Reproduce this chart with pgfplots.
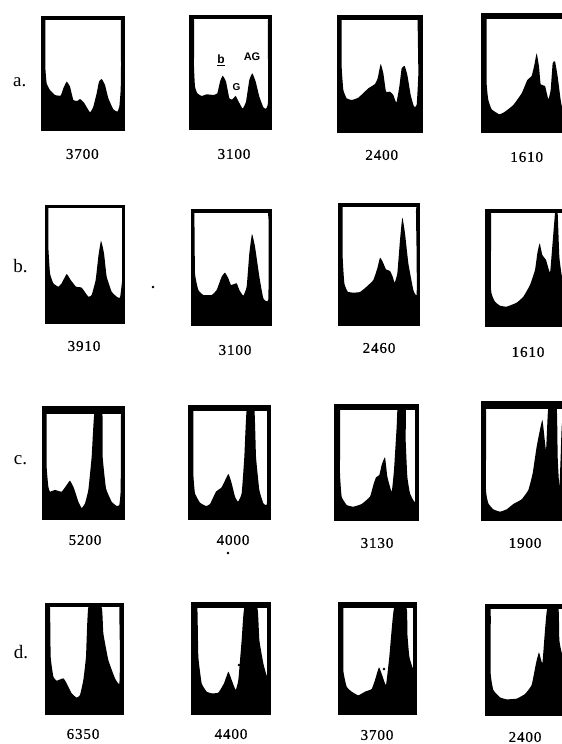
\documentclass[border=0pt]{standalone}
\usepackage{fontspec}
\setmainfont{Liberation Serif}
\newfontfamily\annofont{Liberation Sans}
\newfontfamily\numfont[FakeBold=0.6,LetterSpace=6]{Liberation Serif}
\usepackage{pgfplots}
\pgfplotsset{compat=1.18}
% #1,#2 crop origin (px); #3..#6 frame (3x crop units); #7 frame width (px); #8 lower edge of top band; #9 profile
\newcommand{\panel}[9]{%
  \pgfmathsetmacro{\px}{#1+#3/3}%
  \pgfmathsetmacro{\py}{744-(#2+#6/3)}%
  \pgfmathsetmacro{\pw}{(#5-#3)/3}%
  \pgfmathsetmacro{\ph}{(#6-#4)/3}%
  \begin{axis}[at={(\px pt,\py pt)},anchor=south west,scale only axis,width=\pw pt,height=\ph pt,
    xmin=#3,xmax=#5,ymin=#4,ymax=#6,y dir=reverse,xtick=\empty,ytick=\empty,
    axis line style={line width=#7pt,black}]
    \addplot[fill=black,draw=none] coordinates {(#3,#4)(#5,#4)(#5,#8)(#3,#8)} --cycle;
    \addplot[fill=black,draw=none,smooth,tension=0.22] coordinates {(#3,#6)(#3,#4)#9(#5,#4)(#5,#6)} --cycle;
  \end{axis}%
}
\newcommand{\numlab}[3]{\node[font=\numfont\fontsize{15}{15}\selectfont,anchor=center] at (axis cs:#1,#2) {#3};}
\newcommand{\rowlab}[3]{\node[font=\fontsize{19}{20}\selectfont,anchor=center] at (axis cs:#1,#2) {#3};}
\begin{document}
\begin{tikzpicture}
\useasboundingbox (0,0) rectangle (562pt,744pt);
\begin{axis}[at={(0pt,0pt)},anchor=south west,scale only axis,width=562pt,height=744pt,hide axis,
  xmin=0,xmax=562,ymin=0,ymax=744,y dir=reverse]
  \addplot[only marks,mark=*,mark size=1pt,black] coordinates {(153,287)(228,553)(239,665)(384,669)};
  \rowlab{19.7}{82}{a.}
  \rowlab{20.6}{266}{b.}
  \rowlab{20.5}{460}{c.}
  \rowlab{21}{652}{d.}
  \numlab{82.3}{154}{3700}
  \numlab{234}{154}{3100}
  \numlab{381.7}{155}{2400}
  \numlab{526.7}{157}{1610}
  \numlab{84}{346}{3910}
  \numlab{235}{350}{3100}
  \numlab{379}{348}{2460}
  \numlab{528}{352}{1610}
  \numlab{85}{540}{5200}
  \numlab{233}{540}{4000}
  \numlab{377}{543}{3130}
  \numlab{525}{543}{1900}
  \numlab{83}{734}{6350}
  \numlab{231}{734}{4400}
  \numlab{377}{735}{3700}
  \numlab{525}{737}{2400}
  \node[font=\annofont\bfseries\fontsize{12}{12}\selectfont] at (axis cs:221,60) {\underline{b}};
  \node[font=\annofont\bfseries\fontsize{10}{10}\selectfont] at (axis cs:236.5,87) {G};
  \node[font=\annofont\bfseries\fontsize{11}{11}\selectfont] at (axis cs:252,57) {AG};
\end{axis}
% row a
\panel{0}{0}{130}{54}{368}{388}{4}{58}{(136,60)(136,200)(140,250)(150,270)(165,285)(182,287)(190,265)(200,245)(210,260)(220,300)(232,303)(240,297)(252,308)(270,337)(280,320)(290,280)(297,245)(305,237)(315,255)(325,295)(340,328)(352,335)(358,320)(362,270)(363,200)(363,60)}
\panel{0}{0}{574}{52}{810}{385}{4}{58}{(582,60)(582,200)(585,260)(592,280)(605,288)(620,283)(640,285)(652,280)(660,245)(668,227)(678,245)(688,295)(697,298)(707,288)(716,305)(728,326)(738,305)(748,240)(757,220)(767,245)(778,290)(790,322)(798,326)(804,305)(804,60)}
\panel{290}{0}{146}{52}{392}{392}{4}{60}{(155,60)(155,200)(160,270)(170,295)(185,300)(205,293)(235,265)(255,252)(263,235)(272,192)(280,220)(288,275)(300,275)(310,285)(319,308)(328,260)(335,205)(344,198)(352,225)(362,285)(372,320)(380,315)(385,220)(383,60)}
\panel{290}{0}{581}{47}{840}{392}{4.5}{58}{(590,60)(590,250)(595,300)(605,328)(628,343)(645,335)(670,315)(695,280)(712,240)(725,228)(733,195)(740,160)(747,200)(752,253)(765,258)(775,298)(782,270)(788,190)(795,184)(803,230)(812,300)(816,320)(830,345)(840,345)}
% row b
\panel{0}{190}{139}{48}{371}{398}{2.5}{54}{(145,55)(145,170)(150,250)(160,280)(175,290)(185,280)(200,252)(212,270)(228,290)(245,293)(265,320)(275,315)(287,270)(295,200)(303,152)(312,190)(320,260)(335,305)(350,320)(360,323)(367,260)(367,55)}
\panel{0}{190}{578}{62}{811}{403}{2.5}{68}{(583,68)(585,250)(595,300)(610,315)(635,315)(650,300)(665,260)(675,248)(685,265)(693,285)(710,280)(718,300)(730,317)(740,290)(748,190)(756,132)(765,170)(778,260)(790,325)(805,328)(806,100)(804,68)}
\panel{290}{190}{150}{45}{386}{402}{3.5}{52}{(158,52)(158,200)(163,280)(173,305)(190,308)(210,306)(230,290)(250,270)(262,235)(270,203)(278,215)(288,238)(300,243)(308,260)(314,278)(322,250)(330,150)(337,83)(345,130)(355,220)(370,300)(380,315)(380,200)(378,60)}
\panel{290}{190}{592}{62}{840}{405}{4}{70}{(603,70)(603,300)(615,335)(630,347)(650,350)(680,338)(700,320)(720,285)(735,240)(742,190)(749,160)(757,195)(768,210)(780,248)(786,180)(795,70)(798,62)(803,70)(808,200)(816,260)(840,340)}
% row c
\panel{0}{390}{133}{55}{368}{384}{4}{72}{(140,72)(140,230)(145,290)(150,305)(165,300)(185,305)(200,285)(210,272)(222,295)(235,335)(245,354)(255,340)(265,300)(275,200)(283,70)(307,70)(308,200)(318,295)(335,335)(350,348)(358,345)(362,300)(363,75)(363,72)}
\panel{0}{390}{571}{52}{807}{384}{4}{62}{(580,62)(580,250)(585,310)(600,338)(618,348)(630,342)(648,305)(665,292)(685,252)(695,280)(705,320)(714,335)(725,310)(733,200)(740,60)(763,55)(768,200)(778,300)(790,340)(800,345)(803,300)(803,60)}
\panel{290}{390}{138}{47}{381}{386}{4}{60}{(150,60)(150,250)(155,320)(170,345)(190,350)(215,342)(240,320)(250,285)(258,262)(268,255)(275,225)(285,202)(292,260)(305,305)(312,240)(320,110)(323,55)(347,55)(347,150)(352,260)(360,310)(375,335)(376,200)(376,55)}
\panel{290}{390}{579}{40}{840}{388}{4}{58}{(588,60)(588,300)(595,340)(610,358)(630,365)(650,358)(670,342)(695,328)(715,300)(728,250)(740,170)(757,90)(768,180)(775,50)(800,50)(803,200)(808,292)(812,200)(816,100)(840,60)}
% row d
\panel{0}{590}{141}{44}{366}{368}{4}{52}{(150,52)(152,200)(160,260)(170,272)(190,265)(200,280)(215,310)(230,323)(240,315)(250,270)(258,200)(265,52)(305,52)(310,130)(325,210)(345,265)(358,282)(360,200)(358,55)}
\panel{0}{590}{580}{43}{807}{368}{4}{53}{(592,53)(595,200)(605,280)(620,305)(635,310)(655,308)(672,280)(685,245)(695,270)(707,300)(715,270)(725,150)(733,53)(772,53)(778,150)(790,220)(803,260)(803,60)}
\panel{290}{590}{150}{43}{374}{368}{4}{55}{(160,55)(160,240)(170,290)(185,305)(205,316)(225,305)(245,297)(255,270)(267,232)(278,260)(288,285)(298,200)(312,55)(350,55)(352,130)(358,200)(370,235)(371,100)(371,55)}
\panel{290}{590}{590}{47}{840}{373}{4}{57}{(602,57)(602,250)(610,300)(630,322)(650,328)(680,326)(705,312)(725,285)(738,220)(747,187)(757,220)(765,120)(772,55)(805,50)(808,150)(816,190)(840,200)}
\end{tikzpicture}
\end{document}
